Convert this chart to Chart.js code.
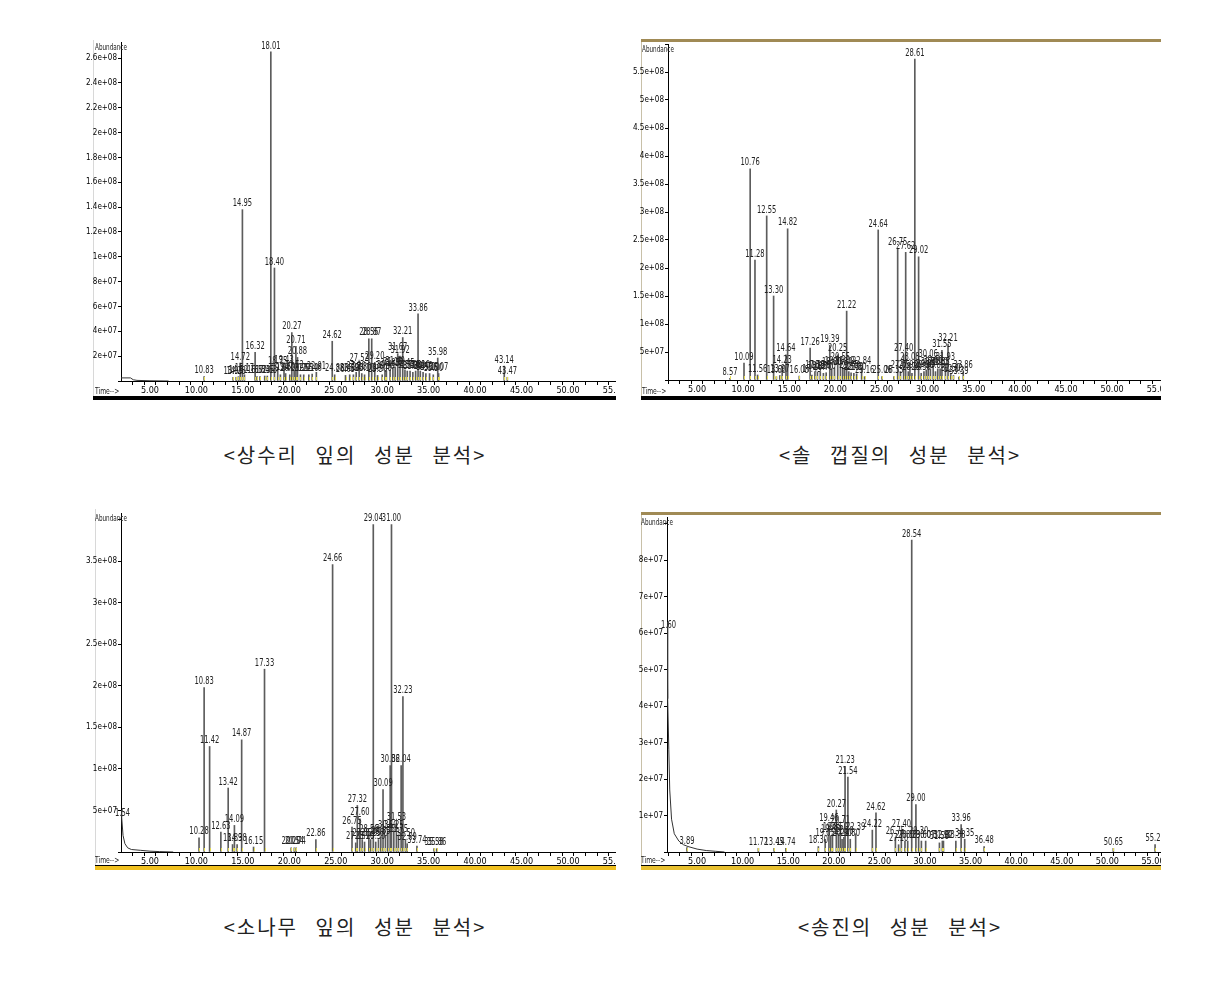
<!DOCTYPE html>
<html lang="ko">
<head>
<meta charset="utf-8">
<script src="https://cdn.jsdelivr.net/npm/chart.js@4.4.1/dist/chart.umd.min.js"></script>
<style>
  body { margin: 0; background: #fff; width: 1217px; height: 982px; position: relative; overflow: hidden; }
  canvas { position: absolute; }
  .deco { position: absolute; }
  .cap { position: absolute; width: 500px; text-align: center; font-family: 'Noto Sans CJK KR', sans-serif;
         font-size: 20px; line-height: 24px; letter-spacing: 2px; word-spacing: 10px; color: #222; }
</style>
</head>
<body>

<!-- panel frames -->
<div class="deco" style="left:93px;top:40px;width:1px;height:356px;background:#d8d8d8"></div>
<div class="deco" style="left:93px;top:396px;width:523px;height:4px;background:#000"></div>

<div class="deco" style="left:641px;top:39px;width:520px;height:3px;background:#a08a55"></div>
<div class="deco" style="left:641px;top:42px;width:1px;height:354px;background:#c8c0a8"></div>
<div class="deco" style="left:641px;top:396px;width:520px;height:4px;background:#000"></div>

<div class="deco" style="left:95px;top:509px;width:1px;height:356px;background:#d8d8d8"></div>
<div class="deco" style="left:95px;top:865px;width:521px;height:1px;background:#000"></div>
<div class="deco" style="left:95px;top:866px;width:521px;height:4px;background:#f0c020"></div>

<div class="deco" style="left:641px;top:512px;width:520px;height:3px;background:#a08a55"></div>
<div class="deco" style="left:641px;top:515px;width:1px;height:350px;background:#c8c0a8"></div>
<div class="deco" style="left:641px;top:865px;width:520px;height:1px;background:#000"></div>
<div class="deco" style="left:641px;top:866px;width:520px;height:4px;background:#e8c030"></div>

<canvas id="c1" width="535" height="358" style="left:81px;top:38px"></canvas>
<canvas id="c2" width="533" height="354" style="left:628px;top:42px"></canvas>
<canvas id="c3" width="535" height="356" style="left:81px;top:509px"></canvas>
<canvas id="c4" width="534" height="350" style="left:627px;top:515px"></canvas>

<div class="cap" style="left:105px;top:443px">&lt;상수리 잎의 성분 분석&gt;</div>
<div class="cap" style="left:650px;top:443px">&lt;솔 껍질의 성분 분석&gt;</div>
<div class="cap" style="left:105px;top:915px">&lt;소나무 잎의 성분 분석&gt;</div>
<div class="cap" style="left:650px;top:915px">&lt;송진의 성분 분석&gt;</div>

<script>
// 상수리 잎 (oak leaf) - retention time (min), abundance
const oakTimes = [10.83, 13.95, 14.28, 14.52, 14.72, 14.95, 15.17, 16.32, 16.52, 16.84, 17.35, 17.63,
  18.01, 18.40, 18.75, 19.04, 19.43, 19.60, 20.05, 20.27, 20.52, 20.71, 20.88, 21.20, 21.55, 22.10,
  22.46, 22.91, 24.62, 24.88, 26.05, 26.50, 26.90, 27.20, 27.52, 27.80, 28.10, 28.56, 28.87, 29.20,
  29.50, 30.00, 30.30, 30.45, 30.85, 31.15, 31.40, 31.67, 31.92, 32.21, 32.45, 32.70, 33.00, 33.30,
  33.60, 33.86, 34.10, 34.40, 34.70, 35.10, 35.50, 35.98, 36.07, 43.14, 43.47];
const oakAbund = [0.35e7, 0.3e7, 0.3e7, 0.35e7, 1.45e7, 13.8e7, 0.5e7, 2.3e7, 0.35e7, 0.35e7, 0.4e7, 0.4e7,
  26.5e7, 9.1e7, 1.1e7, 0.5e7, 1.2e7, 0.6e7, 0.5e7, 3.9e7, 0.8e7, 2.8e7, 1.9e7, 0.5e7, 0.5e7, 0.5e7,
  0.55e7, 0.7e7, 3.2e7, 0.5e7, 0.45e7, 0.5e7, 0.5e7, 0.7e7, 1.35e7, 0.6e7, 0.5e7, 3.4e7, 3.4e7, 1.5e7,
  0.45e7, 0.5e7, 0.7e7, 0.8e7, 0.9e7, 1.0e7, 1.1e7, 2.2e7, 2.0e7, 3.5e7, 0.9e7, 0.8e7, 0.8e7, 0.7e7,
  0.8e7, 5.4e7, 0.8e7, 0.7e7, 0.6e7, 0.6e7, 0.5e7, 1.85e7, 0.6e7, 1.2e7, 0.3e7];
const oakFrontT = [1.88, 2.9, 3.2, 3.6, 5.0, 7.0];
const oakFrontY = [0.25e7, 0.25e7, 0.1e7, 0.05e7, 0.02e7, 0];

// 솔 껍질 (pine bark)
const barkTimes = [8.57, 10.09, 10.76, 11.28, 11.56, 12.55, 13.30, 13.60, 13.97, 14.23, 14.64, 14.82,
  16.08, 17.26, 17.45, 17.78, 18.05, 18.36, 18.70, 19.00, 19.39, 19.60, 19.90, 20.25, 20.55, 20.80,
  21.00, 21.22, 21.45, 21.70, 22.00, 22.30, 22.84, 23.16, 24.64, 25.06, 26.35, 26.75, 27.05, 27.40,
  27.62, 27.90, 28.08, 28.30, 28.61, 29.02, 29.30, 29.60, 29.85, 30.06, 30.30, 30.60, 30.85, 31.10,
  31.35, 31.55, 31.93, 32.21, 32.50, 32.80, 33.39, 33.86];
const barkAbund = [0.3e7, 3.0e7, 37.7e7, 21.4e7, 0.9e7, 29.3e7, 15.0e7, 0.6e7, 0.8e7, 2.5e7, 4.5e7, 27.0e7,
  0.7e7, 5.7e7, 0.9e7, 1.5e7, 1.4e7, 1.5e7, 1.2e7, 1.3e7, 6.2e7, 2.0e7, 2.2e7, 4.5e7, 3.0e7, 2.0e7,
  2.2e7, 12.3e7, 1.5e7, 1.3e7, 1.2e7, 1.1e7, 2.2e7, 0.6e7, 26.8e7, 0.6e7, 0.6e7, 23.5e7, 1.5e7, 4.5e7,
  22.8e7, 1.5e7, 3.0e7, 1.2e7, 57.3e7, 22.0e7, 1.2e7, 1.5e7, 1.8e7, 3.5e7, 2.0e7, 2.5e7, 1.5e7, 2.0e7,
  2.0e7, 5.3e7, 3.0e7, 6.4e7, 1.0e7, 0.8e7, 0.5e7, 1.5e7];

// 소나무 잎 (pine needle)
const needleTimes = [10.28, 10.83, 11.42, 12.63, 13.42, 13.89, 14.09, 14.38, 14.87, 16.15, 17.33, 20.20,
  20.54, 20.74, 22.86, 24.66, 26.75, 27.15, 27.32, 27.60, 27.85, 28.10, 28.56, 28.75, 29.04, 29.30,
  29.60, 29.85, 30.09, 30.35, 30.60, 30.86, 31.00, 31.25, 31.53, 31.75, 32.04, 32.23, 32.50, 32.69,
  33.74, 35.58, 35.86];
const needleAbund = [1.7e7, 19.8e7, 12.7e7, 2.4e7, 7.7e7, 0.9e7, 3.2e7, 0.9e7, 13.5e7, 0.6e7, 22.0e7, 0.5e7,
  0.5e7, 0.5e7, 1.5e7, 34.6e7, 3.0e7, 1.1e7, 5.6e7, 4.0e7, 1.5e7, 1.2e7, 2.0e7, 1.5e7, 39.4e7, 1.2e7,
  1.5e7, 1.8e7, 7.5e7, 2.0e7, 2.5e7, 10.4e7, 39.4e7, 2.5e7, 3.5e7, 2.0e7, 10.4e7, 18.7e7, 1.5e7, 1.0e7,
  0.7e7, 0.4e7, 0.4e7];
const needleFrontT = [1.88, 1.95, 2.1, 2.3, 2.6, 3.0, 4.0, 5.0, 6.0, 7.5];
const needleFrontY = [5.0e7, 4.2e7, 2.0e7, 1.0e7, 0.5e7, 0.3e7, 0.2e7, 0.1e7, 0.05e7, 0];
const needleFrontLabel = '1.54';

// 송진 (pine resin)
const resinTimes = [3.89, 11.72, 13.45, 14.74, 18.30, 19.05, 19.46, 19.65, 19.85, 20.27, 20.50, 20.71,
  20.90, 21.10, 21.23, 21.54, 21.80, 22.39, 24.22, 24.62, 26.75, 27.10, 27.40, 27.80, 28.10, 28.54,
  29.00, 29.30, 29.60, 30.07, 31.58, 31.90, 32.02, 33.38, 33.96, 34.35, 36.48, 50.65, 55.23];
const resinAbund = [0.12e7, 0.1e7, 0.1e7, 0.1e7, 0.15e7, 0.35e7, 0.75e7, 0.45e7, 0.5e7, 1.15e7, 0.5e7, 0.7e7,
  0.35e7, 0.4e7, 2.35e7, 2.05e7, 0.35e7, 0.5e7, 0.6e7, 1.07e7, 0.4e7, 0.2e7, 0.6e7, 0.3e7, 0.3e7, 8.55e7,
  1.3e7, 0.4e7, 0.3e7, 0.3e7, 0.25e7, 0.3e7, 0.3e7, 0.3e7, 0.75e7, 0.35e7, 0.15e7, 0.1e7, 0.2e7];
const resinFrontT = [1.7, 1.75, 1.8, 1.9, 2.0, 2.2, 2.5, 3.0, 3.5, 4.0, 5.0, 6.0, 7.0, 8.0];
const resinFrontY = [6.3e7, 5.5e7, 4.2e7, 2.8e7, 1.7e7, 0.9e7, 0.5e7, 0.3e7, 0.2e7, 0.15e7, 0.08e7, 0.04e7, 0.02e7, 0];
const resinFrontLabel = '1.60';

// abundance is plotted in units of 1e7 so Chart.js tick steps stay clean
const UNIT = 1e7;
const NARROW = '"Liberation Sans Narrow", "DejaVu Sans Condensed", sans-serif';

function expLabel(v) {
    if (v === 0) return '';
    const s = Number(v.toPrecision(3)).toExponential();
    const [m, e] = s.split('e');
    return m + 'e' + e[0] + e.slice(1).padStart(2, '0');
}

function squeezeText(ctx, text, x, y, sx) {
    ctx.save();
    ctx.translate(x, y);
    ctx.scale(sx, 1);
    ctx.fillText(text, 0, 0);
    ctx.restore();
}

// peak labels, integration marks and the two axis captions
const peakPlugin = {
    id: 'peaks',
    afterDatasetsDraw(chart, args, opts) {
        const { ctx, chartArea } = chart;
        const x = chart.scales.x, y = chart.scales.y;
        const y0 = y.getPixelForValue(0);
        ctx.save();
        ctx.strokeStyle = '#e4dc50';
        ctx.lineWidth = 1;
        opts.times.forEach(t => {
            const px = Math.round(x.getPixelForValue(t)) + 0.5;
            ctx.beginPath();
            ctx.moveTo(px, y0 - 1);
            ctx.lineTo(px, y0 - 4);
            ctx.stroke();
        });
        ctx.fillStyle = '#222';
        ctx.font = '10px ' + NARROW;
        ctx.textAlign = 'center';
        ctx.textBaseline = 'bottom';
        opts.times.forEach((t, i) => {
            const px = x.getPixelForValue(t);
            const py = y.getPixelForValue(opts.heights[i] / UNIT);
            squeezeText(ctx, t.toFixed(2), px, py - 1, 0.75);
        });
        if (opts.frontLabel) {
            const px = x.getPixelForValue(opts.frontT[0]);
            const py = y.getPixelForValue(opts.frontY[0] / UNIT);
            ctx.textAlign = 'left';
            squeezeText(ctx, opts.frontLabel, px - 6, py + 8, 0.75);
        }
        ctx.textAlign = 'left';
        ctx.textBaseline = 'top';
        ctx.font = '9px ' + NARROW;
        squeezeText(ctx, 'Abundance', chartArea.left - 26, chartArea.top + 1, 0.7);
        ctx.textBaseline = 'bottom';
        squeezeText(ctx, 'Time-->', chartArea.left - 26, chart.height, 0.75);
        ctx.restore();
    }
};

function makeChart(id, p) {
    const ctx = document.getElementById(id).getContext('2d');
    const datasets = [{
        type: 'bar',
        data: p.times.map((t, i) => ({ x: t, y: p.heights[i] / UNIT })),
        backgroundColor: '#5c5c5c',
        borderWidth: 0,
        barThickness: 1,
        grouped: false
    }];
    if (p.frontT) {
        datasets.push({
            type: 'line',
            data: p.frontT.map((t, i) => ({ x: t, y: p.frontY[i] / UNIT })),
            borderColor: '#333',
            borderWidth: 1,
            pointRadius: 0,
            tension: 0
        });
    }
    new Chart(ctx, {
        type: 'bar',
        data: { datasets: datasets },
        plugins: [peakPlugin],
        options: {
            responsive: false,
            animation: false,
            devicePixelRatio: 1,
            layout: { padding: { top: p.padTop, right: 0, left: 0, bottom: 0 } },
            plugins: {
                legend: { display: false },
                tooltip: { enabled: false },
                peaks: { times: p.times, heights: p.heights, frontT: p.frontT, frontY: p.frontY, frontLabel: p.frontLabel }
            },
            scales: {
                x: {
                    type: 'linear',
                    min: p.xMin,
                    max: p.xMax,
                    offset: false,
                    border: { color: '#000', width: 1 },
                    grid: { drawOnChartArea: false, tickLength: 4, color: '#000' },
                    ticks: {
                        stepSize: 1.25,
                        includeBounds: false,
                        autoSkip: false,
                        maxTicksLimit: 100,
                        maxRotation: 0,
                        padding: 0,
                        color: '#000',
                        font: { family: NARROW, size: 9 },
                        callback: v => Math.abs(v / 5 - Math.round(v / 5)) < 1e-6 ? v.toFixed(2) : ''
                    },
                    afterFit: s => { s.height = p.xAxisH; s.paddingLeft = 0; s.paddingRight = 0; }
                },
                y: {
                    min: 0,
                    max: p.yMax / UNIT,
                    border: { color: '#000', width: 1 },
                    grid: { drawOnChartArea: false, tickLength: 3, color: '#000' },
                    ticks: {
                        stepSize: p.yStep / UNIT,
                        includeBounds: false,
                        autoSkip: false,
                        maxTicksLimit: 100,
                        padding: 1,
                        color: '#000',
                        font: { family: NARROW, size: 8 },
                        // the top tick is left unlabelled, under the "Abundance" caption
                        callback: v => v * UNIT > p.labelMax ? '' : expLabel(v * UNIT)
                    },
                    afterFit: s => { s.width = p.yAxisW; s.paddingTop = 0; s.paddingBottom = 0; }
                }
            }
        }
    });
}

makeChart('c1', { times: oakTimes, heights: oakAbund, frontT: oakFrontT, frontY: oakFrontY,
    xMin: 1.88, xMax: 55.17, yMax: 2.73e8, yStep: 2e7, labelMax: 2.65e8, padTop: 4, xAxisH: 15, yAxisW: 40 });
makeChart('c2', { times: barkTimes, heights: barkAbund,
    xMin: 1.85, xMax: 55.3, yMax: 6.0e8, yStep: 5e7, labelMax: 5.6e8, padTop: 2, xAxisH: 16, yAxisW: 40 });
makeChart('c3', { times: needleTimes, heights: needleAbund, frontT: needleFrontT, frontY: needleFrontY, frontLabel: needleFrontLabel,
    xMin: 1.88, xMax: 55.17, yMax: 4.08e8, yStep: 5e7, labelMax: 3.6e8, padTop: 4, xAxisH: 13, yAxisW: 40 });
makeChart('c4', { times: resinTimes, heights: resinAbund, frontT: resinFrontT, frontY: resinFrontY, frontLabel: resinFrontLabel,
    xMin: 1.70, xMax: 55.88, yMax: 9.18e7, yStep: 1e7, labelMax: 8.5e7, padTop: 2, xAxisH: 13, yAxisW: 40 });
</script>
</body>
</html>
